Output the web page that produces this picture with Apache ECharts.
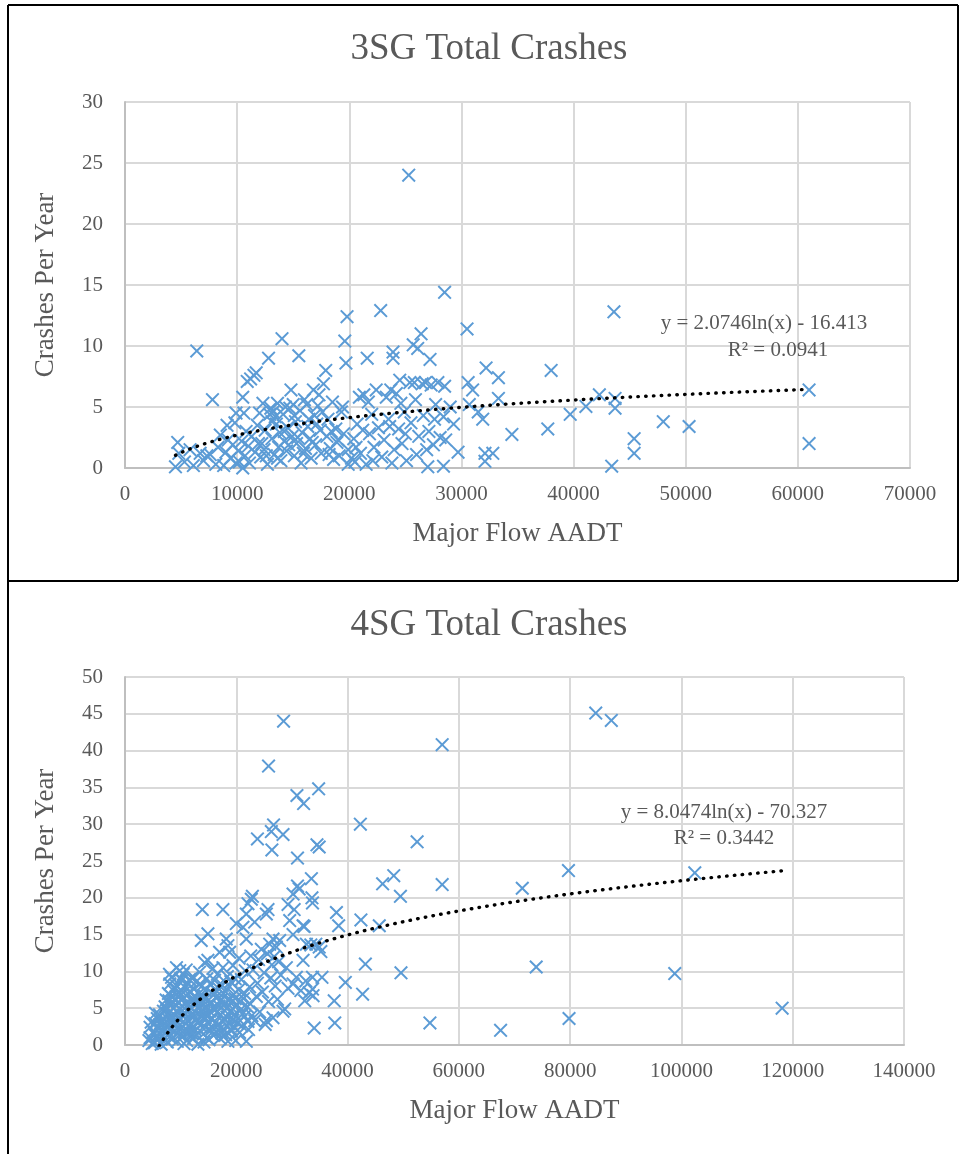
<!DOCTYPE html>
<html>
<head>
<meta charset="utf-8">
<script src="https://cdn.jsdelivr.net/npm/echarts@6/dist/echarts.min.js"></script>
<style>
  html, body { margin: 0; padding: 0; background: #ffffff; }
  #chart { width: 961px; height: 1154px; }
</style>
</head>
<body>
<div id="chart"></div>
<script>
// ---- Chart text ----
const titles = ['3SG Total Crashes', '4SG Total Crashes'];
const xAxisName = 'Major Flow AADT';
const yAxisName = 'Crashes Per Year';

// ---- Logarithmic trendlines: y = a*ln(x) + b ----
const sg3Trend = { a: 2.0746, b: -16.413, r2: 0.0941 };
const sg4Trend = { a: 8.0474, b: -70.327, r2: 0.3442 };

// ---- 3SG sites: [major flow AADT, crashes per year] ----
const sg3Points = [
  [4500,0.1],[4700,2.1],[4800,1.2],[5300,0.5],[5800,1.5],[6100,0.2],[6400,9.6],[6700,1.2],
  [7000,0.6],[7300,1.0],[7600,1.1],[7800,5.6],[8100,0.3],[8300,1.7],[8500,2.7],[8800,0.2],
  [9000,1.3],[9100,3.5],[9200,2.3],[9400,0.8],[9600,1.9],[9800,3.7],[9900,4.5],[9900,0.4],
  [10100,1.4],[10200,0.5],[10400,2.2],[10500,0.0],[10500,5.8],[10600,4.5],[10700,1.0],[10800,3.0],
  [10900,7.1],[11000,1.8],[11100,0.4],[11200,7.3],[11300,2.6],[11500,7.6],[11600,1.3],[11700,7.8],
  [11800,3.5],[12000,4.5],[12100,0.9],[12200,2.0],[12400,1.5],[12500,3.1],[12700,0.3],[12800,9.0],
  [12900,4.4],[13000,4.9],[13100,2.4],[13200,4.6],[13300,1.1],[13400,4.2],[13500,3.6],[13600,5.3],
  [13700,1.7],[13800,2.9],[13900,0.6],[14000,10.6],[14100,4.4],[14200,2.2],[14300,5.0],[14400,1.4],
  [14500,3.3],[14700,4.9],[14800,6.4],[14900,2.6],[15000,5.2],[15100,1.0],[15200,3.8],[15300,2.0],
  [15500,9.2],[15600,4.7],[15700,0.4],[15800,2.9],[16000,5.6],[16100,1.6],[16200,5.2],[16300,3.4],
  [16500,2.4],[16600,0.8],[16800,6.4],[16900,4.3],[17000,1.9],[17200,5.1],[17300,6.0],[17400,3.1],
  [17500,1.2],[17700,6.9],[17900,8.0],[18000,2.6],[18100,4.0],[18300,1.6],[18500,5.4],[18600,0.7],
  [18800,3.2],[18900,2.1],[19100,1.0],[19300,4.6],[19500,2.8],[19600,10.4],[19700,8.6],[19800,12.4],
  [19900,1.5],[19900,0.3],
  [11900,2.0],[12300,5.3],[12600,1.0],[13100,3.8],[13600,0.8],[14200,3.0],[14600,1.9],[15100,4.3],
  [15400,2.5],[15900,1.2],[16400,4.0],[16700,2.1],[17100,3.6],[17600,4.6],[18200,1.1],[18400,3.0],
  [19000,2.3],[19400,5.0],
  [20200,0.8],[20400,2.4],[20500,0.5],[20700,3.6],[20900,5.8],[21000,1.2],[21300,6.0],[21500,0.3],
  [21600,9.0],[21700,5.4],[21800,2.8],[22000,4.4],[22200,1.7],[22400,6.4],[22600,3.3],[22800,12.9],
  [22900,0.9],[23100,2.3],[23300,5.8],[23500,4.0],[23700,6.4],[23800,0.4],[23900,9.5],[23900,9.0],
  [24000,1.5],[24200,6.1],[24400,3.2],[24500,7.2],[24700,2.0],[24900,4.6],[25100,0.6],[25300,24.0],
  [25400,7.0],[25500,3.7],[25700,10.1],[25800,7.0],[25900,5.6],[26000,1.1],[26100,9.8],[26200,2.6],
  [26400,11.0],[26500,6.9],[26600,4.3],[26800,7.0],[27000,0.1],[27100,3.0],[27200,8.9],[27300,6.8],
  [27500,1.9],[27700,5.2],[27900,7.0],[28100,2.5],[28400,4.2],[28400,0.15],[28500,14.4],[28500,6.7],
  [28600,2.3],[29000,5.0],[29300,3.6],[29700,1.3],
  [20600,1.7],[21200,3.1],[22100,0.6],[23600,3.4],[24600,5.3],[25000,2.8],[26900,1.5],[27600,4.0],
  [30500,11.4],[30600,7.0],[30700,5.2],[31000,6.4],[31500,4.6],[31900,4.0],[32100,1.2],[32100,0.55],
  [32200,8.2],[32800,1.2],[33300,7.4],[33300,5.7],[34500,2.75],[37700,3.2],[38000,8.0],[39700,4.4],
  [41100,5.05],[42300,6.0],[43400,0.15],[43600,12.8],[43700,5.7],[43700,4.9],[45400,2.4],[45400,1.2],
  [48000,3.8],[50300,3.4],[61000,6.4],[61000,2.0]
];

// ---- 4SG sites: [major flow AADT, crashes per year] ----
const sg4Points = [
  [28500,44.0],[25800,37.9],[57000,40.8],[34800,34.8],[30900,33.9],[32100,32.8],[42300,30.0],[26700,29.9],
  [26300,29.0],[28400,28.6],[23800,28.0],[26400,26.5],[34500,27.2],[34900,26.9],[52500,27.6],[31000,25.4],
  [33500,22.6],[31000,21.6],[31300,21.2],[30200,20.5],[46300,21.9],[48300,23.0],[49500,20.2],[57000,21.8],
  [33600,20.0],[33700,19.3],[22900,20.2],[22700,19.8],[22100,19.2],[29300,19.1],[30400,18.4],[25700,18.4],
  [17600,18.4],[13900,18.4],[38000,18.0],[42400,17.0],[21800,17.8],[84600,45.1],[87400,44.1],[79700,23.7],
  [102400,23.4],[71400,21.3],[98800,9.7],[73900,10.6],[118100,5.0],[67500,2.0],[79800,3.6],[54800,3.0],
  [49600,9.8],[43200,11.0],[42700,6.9],[39600,8.5],[37600,6.0],[34000,2.3],[37700,3.0],[38400,16.2],
  [45700,16.2],[32200,16.1],[35200,12.7],[33400,13.6],
  [4300,0.6],[4500,2.4],[4500,1.0],[4700,3.1],[4900,0.2],[5100,1.8],[5300,0.3],[5400,2.9],
  [5600,1.2],[5800,3.6],[5900,0.7],[6100,2.2],[6200,4.1],[6400,1.5],[6500,0.1],[6600,3.3],
  [6800,2.0],[6900,4.6],[7000,0.9],[6300,2.8],[5500,4.3],
  [7100,3.0],[7200,5.2],[7300,1.6],[7400,6.1],[7500,2.5],[7600,0.4],[7700,4.3],[7800,7.0],
  [7900,3.4],[8000,1.1],[8060,8.3],[8100,5.5],[8200,2.2],[8300,6.6],[8360,9.2],[8400,4.0],
  [8500,0.8],[8600,3.1],[8700,7.4],[8800,5.0],[8900,1.9],[9000,6.2],[9100,2.8],[9200,8.1],
  [9250,10.5],[9300,4.5],[9400,0.5],[9500,5.8],[9600,3.6],[9700,7.2],[9800,1.4],[9850,10.1],
  [9900,4.9],[10000,6.8],
  [7000,2.4],[7500,4.8],[7900,6.0],[8200,3.7],[8500,5.9],[8800,2.6],[9100,7.7],[9400,3.2],
  [9600,6.5],[9900,2.1],[8000,9.6],[9000,4.0],[7700,1.3],
  [10100,2.4],[10200,8.8],[10300,5.3],[10400,3.9],[10450,9.6],[10500,1.2],[10600,6.4],[10700,4.4],
  [10800,7.8],[10900,2.9],[11000,5.7],[11100,0.6],[11200,8.4],[11300,3.3],[11400,6.9],[11500,4.8],
  [11600,1.7],[11700,7.3],[11800,5.1],[11900,2.3],[12000,9.1],[12100,6.0],[12200,3.7],[12300,0.9],
  [12400,7.6],[12500,4.6],[12600,5.9],[12700,2.0],[12800,8.6],[12900,3.5],
  [10200,4.6],[10500,7.1],[10800,1.8],[11000,3.6],[11300,5.4],[11600,8.9],[11800,2.9],[12100,4.1],
  [12400,6.6],[12700,1.4],[12900,5.6],[10000,9.0],[11000,10.2],[12000,1.6],[10600,0.2],
  [13000,6.3],[13100,0.1],[13200,4.9],[13300,7.0],[13400,9.9],[13500,2.7],[13600,5.5],[13700,14.2],
  [13800,8.0],[13900,3.9],[14000,6.7],[14100,1.5],[14200,4.3],[14300,11.2],[14400,7.4],[14500,2.4],
  [14600,5.2],[14700,9.0],[14800,3.1],[14900,15.1],[14900,11.5],[15000,6.1],[15100,0.7],[15200,4.6],
  [15300,8.3],[15400,2.0],[15500,5.8],[15600,7.1],[15700,3.6],[15800,10.4],[15900,1.3],
  [13200,3.0],[13500,8.3],[13800,4.6],[14100,6.0],[14400,3.7],[14700,1.0],[15000,4.0],[15300,5.5],
  [15600,2.4],[15900,6.8],[14200,0.4],
  [16000,5.0],[16100,8.8],[16200,3.0],[16300,6.5],[16400,1.8],[16500,4.4],[16600,9.6],[16700,2.6],
  [16800,7.7],[16900,5.3],[17000,12.6],[17100,0.9],[17200,4.1],[17300,6.2],[17400,3.3],[17500,8.1],
  [17600,10.5],[17700,2.2],[17800,5.6],[17900,4.7],[18000,7.3],[18100,1.4],[18200,14.4],[18300,3.8],
  [18400,9.3],[18500,13.5],[18600,6.0],[18700,2.9],[18800,12.6],[18900,4.5],
  [16200,4.9],[16500,7.3],[16800,2.0],[17100,5.9],[17400,1.6],[17700,7.0],[18000,3.4],[18300,5.0],
  [18700,8.0],[18500,0.5],
  [19000,8.6],[19100,1.9],[19200,5.9],[19300,3.4],[19400,10.8],[19500,6.9],[19600,2.5],[19700,4.2],
  [19800,9.0],[19900,0.6],[20000,16.5],[20100,5.5],[20200,3.0],[20400,7.5],[20500,11.8],[20600,1.7],
  [20800,4.8],[20900,8.9],[21000,2.6],[21200,16.0],[21300,6.3],[21500,3.9],[21600,10.1],[21800,14.4],
  [21800,0.5],[22000,5.2],[22200,2.1],[22400,7.9],[22600,12.1],[22800,4.0],
  [19000,2.2],[19400,4.9],[19800,6.3],[20300,3.6],[20700,5.9],[21100,4.2],[21500,7.0],[22100,3.2],
  [22500,5.6],
  [23000,10.2],[23300,16.7],[23300,3.3],[23600,6.6],[23800,8.4],[24000,11.6],[24200,4.5],[24500,13.0],
  [24700,7.2],[25000,9.8],[25200,2.8],[25400,17.8],[25400,3.3],[25600,12.4],[25800,5.9],[26000,13.7],
  [26200,9.1],[26400,10.9],[26600,14.4],[26600,3.7],[26800,12.0],[27000,8.0],[27200,13.3],[27400,6.2],
  [27600,11.3],[27800,14.2],[28000,9.5],[28400,4.6],[28700,4.9],[29000,10.5],[29300,7.7],[29600,16.9],
  [30200,8.3],[30200,15.0],[30800,9.2],[31600,7.4],[32000,16.2],[32000,11.5],[32300,6.0],[32500,8.7],
  [32600,13.7],[33100,7.1],[33700,9.2],[33700,7.6],[33800,6.7],[34300,13.7],[34900,13.3],[35400,9.2]
];

// ---- Axis ranges ----
const sg3XAxis = { min: 0, max: 70000, interval: 10000 };
const sg3YAxis = { min: 0, max: 30, interval: 5 };
const sg4XAxis = { min: 0, max: 140000, interval: 20000 };
const sg4YAxis = { min: 0, max: 50, interval: 5 };

// ---- Styling ----
const FONT = '"Liberation Serif", "Times New Roman", serif';
const TEXT = '#595959';
const MARK = '#5B9BD5';
const GRIDLINE = '#D9D9D9';
const AXISLINE = '#BFBFBF';
const CROSS = 'path://M0,10L10,0L50,40L90,0L100,10L60,50L100,90L90,100L50,60L10,100L0,90L40,50Z';

// Sample a trendline curve across the x-range covered by the sites
function trendCurve(points, t) {
  const xs = points.map(p => p[0]);
  const lo = Math.min.apply(null, xs), hi = Math.max.apply(null, xs);
  const out = [];
  const n = 160;
  for (let i = 0; i <= n; i++) {
    const x = lo + (hi - lo) * i / n;
    out.push([x, t.a * Math.log(x) + t.b]);
  }
  return out;
}

function fmt(v, d) { return v.toFixed(d); }
function eqText(t) {
  const sign = t.b < 0 ? ' - ' : ' + ';
  return 'y = ' + fmt(t.a, 4) + 'ln(x)' + sign + fmt(Math.abs(t.b), 3);
}

function makeX(idx, r) {
  return {
    gridIndex: idx, type: 'value', min: r.min, max: r.max, interval: r.interval,
    name: xAxisName, nameLocation: 'middle', nameGap: 52,
    nameTextStyle: { fontFamily: FONT, fontSize: 27, color: TEXT },
    axisLine: { show: true, lineStyle: { color: AXISLINE, width: 2 } },
    axisTick: { show: false },
    axisLabel: { fontFamily: FONT, fontSize: 21, color: TEXT, margin: 16, formatter: v => String(v) },
    splitLine: { show: true, lineStyle: { color: GRIDLINE, width: 2 } }
  };
}
function makeY(idx, r) {
  return {
    gridIndex: idx, type: 'value', min: r.min, max: r.max, interval: r.interval,
    name: yAxisName, nameLocation: 'middle', nameGap: 66, nameRotate: 90,
    nameTextStyle: { fontFamily: FONT, fontSize: 27, color: TEXT },
    axisLine: { show: true, lineStyle: { color: AXISLINE, width: 2 } },
    axisTick: { show: false },
    axisLabel: { fontFamily: FONT, fontSize: 21, color: TEXT, margin: 22 },
    splitLine: { show: true, lineStyle: { color: GRIDLINE, width: 2 } }
  };
}
function scatter(idx, data) {
  return {
    type: 'scatter', xAxisIndex: idx, yAxisIndex: idx, data: data,
    symbol: CROSS, symbolSize: 14,
    itemStyle: { color: MARK, opacity: 1 }, silent: true, z: 2
  };
}
function trend(idx, data) {
  return {
    type: 'line', xAxisIndex: idx, yAxisIndex: idx, data: data,
    showSymbol: false, symbol: 'none', smooth: false, silent: true, z: 3,
    lineStyle: { color: '#000000', width: 3.4, type: [0.5, 7.3], cap: 'round' }
  };
}
function label(text, x, y) {
  return {
    type: 'text', x: x, y: y, silent: true, z: 10,
    style: { text: text, fill: TEXT, font: '21px ' + FONT, textAlign: 'center', textVerticalAlign: 'middle' }
  };
}
function rule(x1, y1, x2, y2) {
  return { type: 'line', silent: true, z: 20, shape: { x1: x1, y1: y1, x2: x2, y2: y2 },
           style: { stroke: '#000000', lineWidth: 2 } };
}

const chart = echarts.init(document.getElementById('chart'), null, { renderer: 'canvas' });
chart.setOption({
  animation: false,
  backgroundColor: '#ffffff',
  grid: [
    { left: 125, top: 102, width: 785, height: 366 },
    { left: 125, top: 677, width: 779, height: 368 }
  ],
  xAxis: [makeX(0, sg3XAxis), makeX(1, sg4XAxis)],
  yAxis: [makeY(0, sg3YAxis), makeY(1, sg4YAxis)],
  series: [
    scatter(0, sg3Points), trend(0, trendCurve(sg3Points, sg3Trend)),
    scatter(1, sg4Points), trend(1, trendCurve(sg4Points, sg4Trend))
  ],
  graphic: [
    { type: 'text', x: 489, y: 49, silent: true,
      style: { text: titles[0], fill: TEXT, font: '37px ' + FONT, textAlign: 'center', textVerticalAlign: 'middle' } },
    { type: 'text', x: 489, y: 625, silent: true,
      style: { text: titles[1], fill: TEXT, font: '37px ' + FONT, textAlign: 'center', textVerticalAlign: 'middle' } },
    label(eqText(sg3Trend), 764, 323),
    label('R² = ' + fmt(sg3Trend.r2, 4), 778, 350),
    label(eqText(sg4Trend), 724, 812),
    label('R² = ' + fmt(sg4Trend.r2, 4), 724, 838),
    rule(8, 5, 958, 5),
    rule(8, 5, 8, 1154),
    rule(958, 5, 958, 581),
    rule(8, 581, 958, 581)
  ]
});
</script>
</body>
</html>
